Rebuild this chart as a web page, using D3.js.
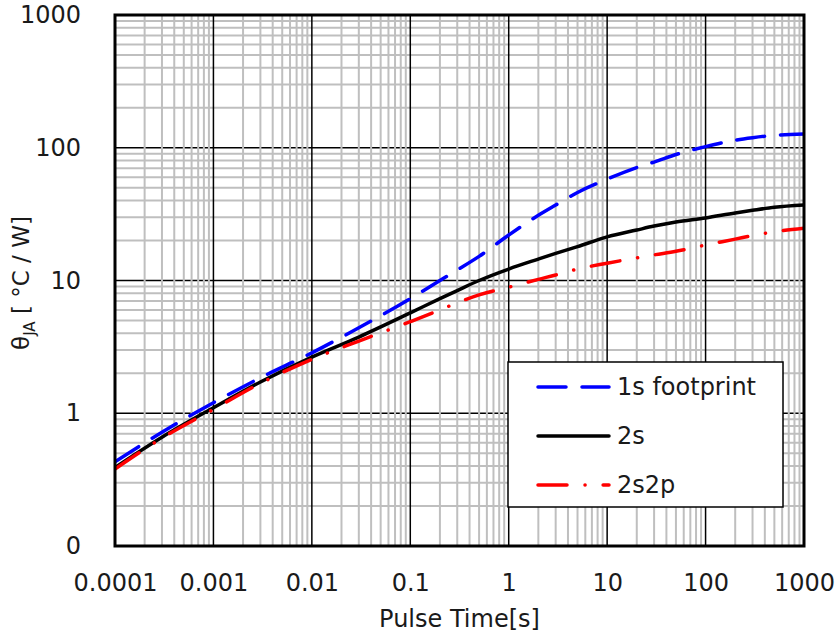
<!DOCTYPE html>
<html>
<head>
<meta charset="utf-8">
<script src="https://cdn.jsdelivr.net/npm/d3@7"></script>
<style>
  body { margin: 0; background: #fff; }
  svg text { font-family: "DejaVu Sans", Verdana, sans-serif; fill: #1a1a1a; }
</style>
</head>
<body>
<svg id="chart" width="837" height="637"></svg>
<script>
// pulse width [s]
var pulseTime = [1e-4, 3e-4, 1e-3, 3e-3, 1e-2, 3e-2, 0.1, 0.2, 0.3, 0.5, 1, 2, 3, 5, 10, 20, 30, 50, 100, 200, 300, 500, 1000];

// thermal resistance [degC/W]
var footprint1s = [0.43, 0.72, 1.2, 1.85, 2.85, 4.4, 7.3, 10, 12, 15.2, 22, 31, 37, 46, 58, 71, 78, 89, 102, 114, 119, 124, 127];
var board2s = [0.39, 0.66, 1.1, 1.72, 2.65, 3.75, 5.7, 7.3, 8.4, 10.0, 12.2, 14.5, 16, 18, 21.3, 24, 25.7, 27.6, 29.6, 32.3, 33.8, 35.6, 37];
var board2s2p = [0.38, 0.65, 1.07, 1.68, 2.55, 3.5, 4.9, 6.0, 6.8, 7.8, 8.9, 10.2, 11, 12.2, 13.5, 14.8, 15.6, 16.6, 18.5, 20.5, 21.8, 23.3, 24.8];

var seriesNames = ['1s footprint', '2s', '2s2p'];
var xTickValues = [1e-4, 1e-3, 1e-2, 1e-1, 1, 10, 100, 1000];
var xTickLabels = ['0.0001', '0.001', '0.01', '0.1', '1', '10', '100', '1000'];
var yTickValues = [0.1, 1, 10, 100, 1000];
var yTickLabels = ['0', '1', '10', '100', '1000'];

var svg = d3.select('#chart');
var margin = {left: 115, right: 33, top: 15, bottom: 91};
var W = 837 - margin.left - margin.right;
var H = 637 - margin.top - margin.bottom;

var x = d3.scaleLog().domain([1e-4, 1000]).range([0, W]);
var y = d3.scaleLog().domain([0.1, 1000]).range([H, 0]);

var g = svg.append('g').attr('transform', 'translate(' + margin.left + ',' + margin.top + ')');

// minor ticks 2..9 in each decade
function minors(lo, hi) {
    var out = [];
    for (var e = lo; e < hi; e++) {
        for (var k = 2; k <= 9; k++) out.push(k * Math.pow(10, e));
    }
    return out;
}
var xMinor = minors(-4, 3);
var yMinor = minors(-1, 3);

// grid: minor horizontal, major horizontal, minor vertical, major vertical
g.selectAll('.hminor').data(yMinor).enter().append('line')
    .attr('x1', 0).attr('x2', W)
    .attr('y1', d => y(d)).attr('y2', d => y(d))
    .attr('stroke', '#bfbfbf').attr('stroke-width', 2);
g.selectAll('.hmajor').data(yTickValues.slice(1, -1)).enter().append('line')
    .attr('x1', 0).attr('x2', W)
    .attr('y1', d => y(d)).attr('y2', d => y(d))
    .attr('stroke', '#000').attr('stroke-width', 1.5);
g.selectAll('.vminor').data(xMinor).enter().append('line')
    .attr('y1', 0).attr('y2', H)
    .attr('x1', d => x(d)).attr('x2', d => x(d))
    .attr('stroke', '#bfbfbf').attr('stroke-width', 2);
g.selectAll('.vmajor').data(xTickValues.slice(1, -1)).enter().append('line')
    .attr('y1', 0).attr('y2', H)
    .attr('x1', d => x(d)).attr('x2', d => x(d))
    .attr('stroke', '#000').attr('stroke-width', 1.5);

// curves
var line = d3.line()
    .x(d => x(d[0]))
    .y(d => y(d[1]))
    .curve(d3.curveMonotoneX);

var series = [
    {name: seriesNames[0], values: footprint1s, color: '#0000ff', dash: '28,16'},
    {name: seriesNames[1], values: board2s, color: '#000000', dash: null},
    {name: seriesNames[2], values: board2s2p, color: '#ff0000', dash: '29,18,0.1,18'}
];

g.append('clipPath').attr('id', 'clip')
    .append('rect').attr('x', 0).attr('y', 0).attr('width', W).attr('height', H);

series.forEach(function(s) {
    g.append('path')
        .datum(pulseTime.map((t, i) => [t, s.values[i]]))
        .attr('d', line)
        .attr('fill', 'none')
        .attr('stroke', s.color)
        .attr('stroke-width', 3.5)
        .attr('stroke-linecap', 'round')
        .attr('stroke-dasharray', s.dash)
        .attr('clip-path', 'url(#clip)');
});

// frame
g.append('rect').attr('x', 0).attr('y', 0).attr('width', W).attr('height', H)
    .attr('fill', 'none').attr('stroke', '#000').attr('stroke-width', 3);

// axes labels
var xAxis = d3.axisBottom(x).tickValues(xTickValues)
    .tickFormat((d, i) => xTickLabels[i]).tickSize(0).tickPadding(28);
var gx = g.append('g').attr('transform', 'translate(0,' + H + ')').call(xAxis);
gx.select('.domain').remove();
gx.selectAll('text').attr('font-size', 24).attr('font-family', null);

var yAxis = d3.axisLeft(y).tickValues(yTickValues)
    .tickFormat((d, i) => yTickLabels[i]).tickSize(0).tickPadding(34);
var gy = g.append('g').call(yAxis);
gy.select('.domain').remove();
gy.selectAll('text').attr('font-size', 24).attr('font-family', null);

svg.append('text')
    .attr('x', margin.left + W / 2).attr('y', 627)
    .attr('text-anchor', 'middle').attr('font-size', 24)
    .text('Pulse Time[s]');

var yt = svg.append('text')
    .attr('transform', 'translate(29,' + 283 + ') rotate(-90)')
    .attr('text-anchor', 'middle').attr('font-size', 23);
yt.append('tspan').text('θ');
yt.append('tspan').attr('font-size', 15).attr('dy', 6).text('JA');
yt.append('tspan').attr('dy', -6).text(' [ °C / W]');

// legend
var lg = svg.append('g').attr('transform', 'translate(508,362)');
lg.append('rect').attr('width', 275).attr('height', 145)
    .attr('fill', '#fff').attr('stroke', '#000').attr('stroke-width', 1.5);
series.forEach(function(s, i) {
    var ly = 25 + i * 49;
    lg.append('line')
        .attr('x1', 30).attr('x2', 101).attr('y1', ly).attr('y2', ly)
        .attr('stroke', s.color).attr('stroke-width', 3.5)
        .attr('stroke-linecap', 'round')
        .attr('stroke-dasharray', s.dash);
    lg.append('text')
        .attr('x', 109).attr('y', ly).attr('dy', '0.35em')
        .attr('font-size', 24)
        .text(s.name);
});
</script>
</body>
</html>
